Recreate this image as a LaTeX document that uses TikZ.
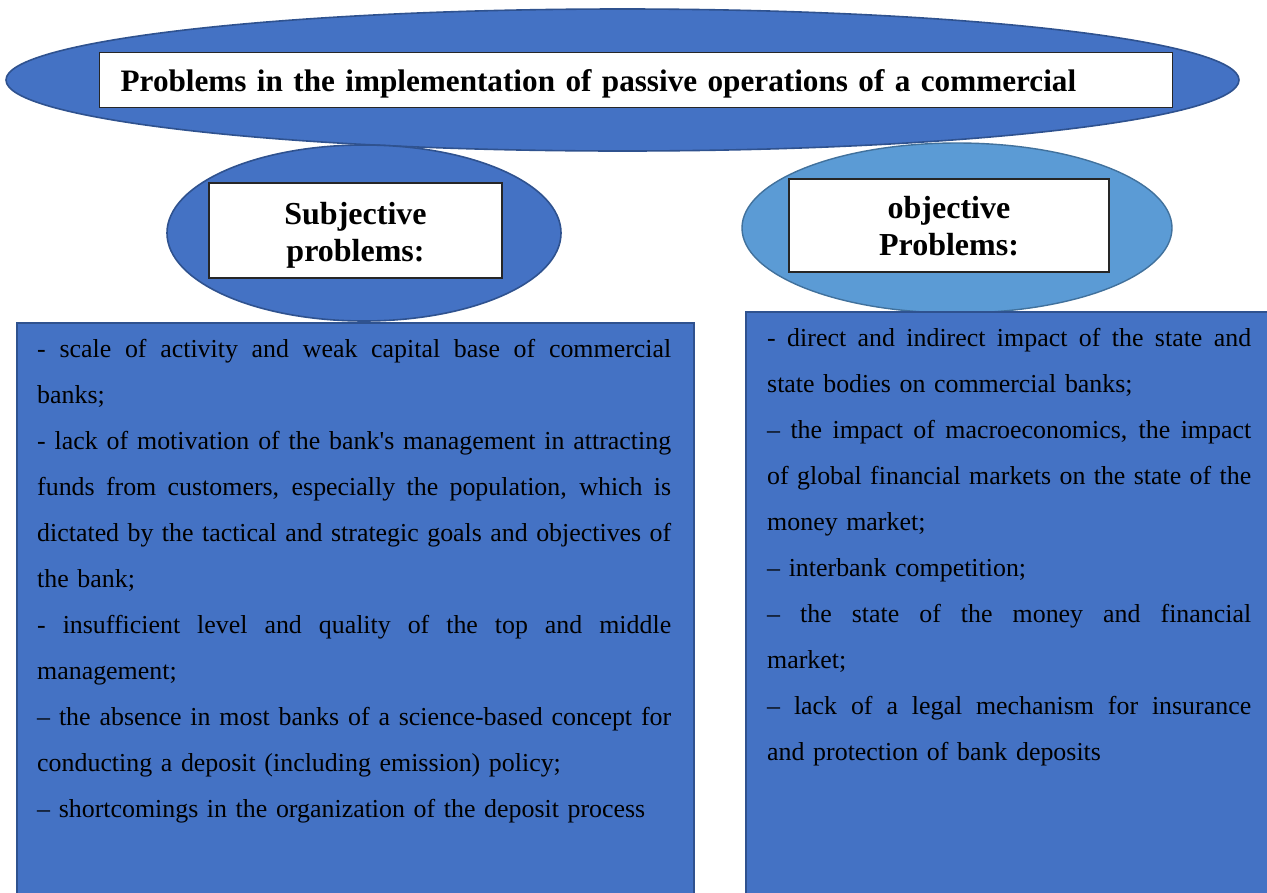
\documentclass[tikz,border=0pt]{standalone}
\usepackage{fontspec}
\setmainfont{Liberation Serif}[Ligatures={TeXOff,CommonOff}]
\usetikzlibrary{shapes.geometric}
\definecolor{fillblue}{HTML}{4472C4}
\definecolor{edgeblue}{HTML}{2F528F}
\definecolor{lightblue}{HTML}{5B9BD5}
\definecolor{lightedge}{HTML}{41719C}
\newlength\jw
\newcommand\jline[1]{\leavevmode\hbox to \jw{\spaceskip=\fontdimen2\font plus 1fil\relax #1}}
\begin{document}
\begin{tikzpicture}[x=1pt,y=-1pt,
  bigell/.style={ellipse, fill=fillblue, draw=edgeblue, line width=1.6pt, inner sep=0pt},
  lightell/.style={ellipse, fill=lightblue, draw=lightedge, line width=1.4pt, inner sep=0pt},
  whitebox/.style={rectangle, fill=white, draw=black!85, line width=1.3pt},
  headfont/.style={font=\bfseries\fontsize{32pt}{37pt}\selectfont},
  listbox/.style={rectangle, fill=fillblue, draw=edgeblue, line width=1.8pt, inner sep=0pt, anchor=north west},
  listtext/.style={anchor=base west, inner sep=0pt, align=left, font=\fontsize{25.9pt}{46pt}\selectfont}
]
\useasboundingbox (0,0) rectangle (1267,892);
\fill[white] (0,0) rectangle (1267,892);

% top ellipse and title
\node[bigell, minimum width=1233pt, minimum height=142pt] (topell) at (622.5,80) {};
\node[whitebox, font=\bfseries\fontsize{31.2pt}{37pt}\selectfont, anchor=north west, inner xsep=21pt, inner ysep=0pt,
      text width=1031pt, align=left, text height=39pt, text depth=16pt] (title) at (99,52)
  {Problems in the implementation of passive operations of a commercial};

% side ellipses
\node[bigell, minimum width=394pt, minimum height=176pt] (subell) at (364,233) {};
\node[lightell, minimum width=430pt, minimum height=170pt] (objell) at (957,228) {};

% list boxes
\node[listbox, minimum width=677pt, minimum height=620pt] (leftbox) at (16,322) {};
\node[listbox, minimum width=560pt, minimum height=620pt] (rightbox) at (745,311) {};

% heading boxes
\node[whitebox, headfont, minimum width=293pt, minimum height=95pt, align=center, inner sep=0pt] (subj) at (355.5,230.5)
  {\rule{0pt}{32pt}Subjective\\problems:};
\node[whitebox, headfont, minimum width=320pt, minimum height=93pt, align=center, inner sep=0pt] (obj) at (949,225.5)
  {\rule{0pt}{30pt}objective\\Problems:\vphantom{p}};

% list texts
\node[listtext, text width=634pt] (lefttext) at (37,357) {\setlength\jw{634pt}%
\jline{- scale of activity and weak capital base of commercial}\\
banks;\\
\jline{- lack of motivation of the bank's management in attracting}\\
\jline{funds from customers, especially the population, which is}\\
\jline{dictated by the tactical and strategic goals and objectives of}\\
the bank;\\
\jline{- insufficient level and quality of the top and middle}\\
management;\\
\jline{– the absence in most banks of a science-based concept for}\\
conducting a deposit (including emission) policy;\\
– shortcomings in the organization of the deposit process};

\node[listtext, text width=484pt] (righttext) at (767,346.5) {\setlength\jw{484pt}%
\jline{- direct and indirect impact of the state and}\\
state bodies on commercial banks;\\
\jline{– the impact of macroeconomics, the impact}\\
\jline{of global financial markets on the state of the}\\
money market;\\
– interbank competition;\\
\jline{– the state of the money and financial}\\
market;\\
\jline{– lack of a legal mechanism for insurance}\\
and protection of bank deposits};
\end{tikzpicture}
\end{document}
